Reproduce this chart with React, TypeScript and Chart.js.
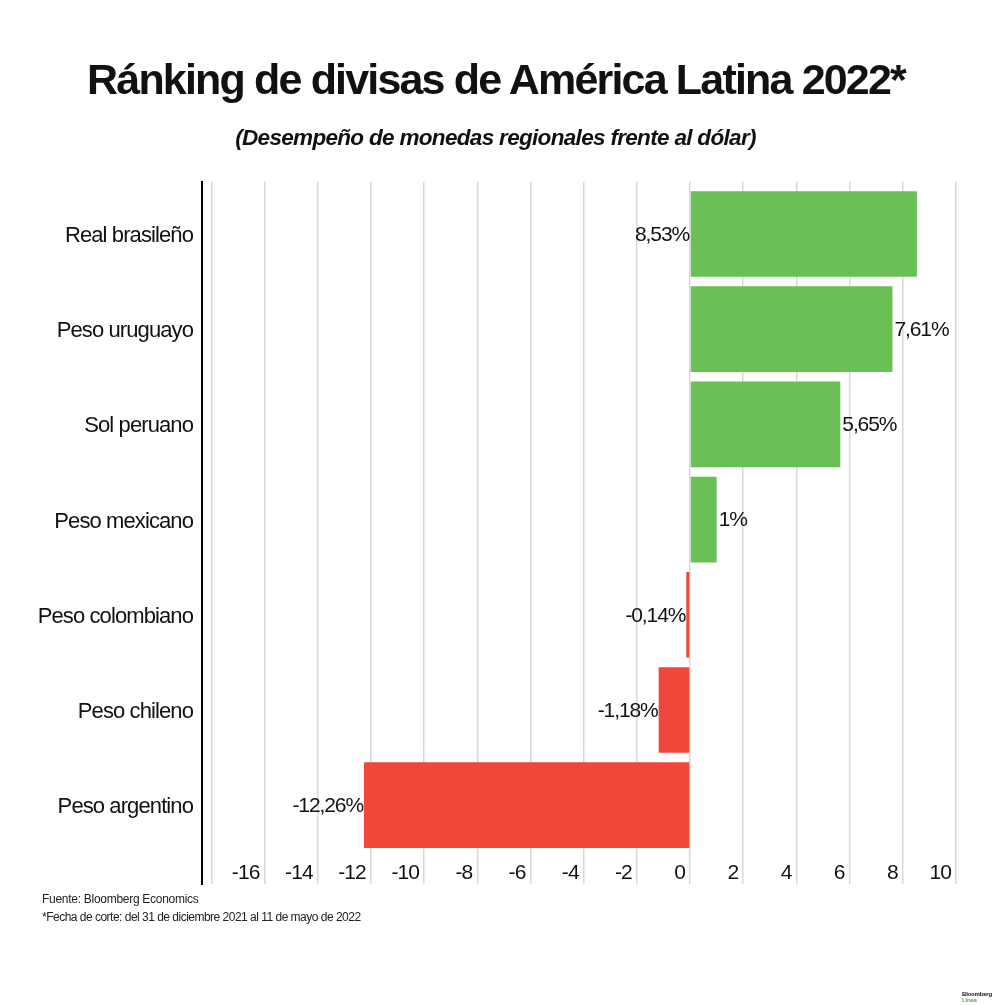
import React, { useEffect, useRef } from "react";
import { Chart, registerables } from "chart.js";

Chart.register(...registerables);

const categories = [
  "Real brasileño",
  "Peso uruguayo",
  "Sol peruano",
  "Peso mexicano",
  "Peso colombiano",
  "Peso chileno",
  "Peso argentino",
];
const values = [8.53, 7.61, 5.65, 1, -0.14, -1.18, -12.26];
const valueLabels = ["8,53%", "7,61%", "5,65%", "1%", "-0,14%", "-1,18%", "-12,26%"];
const xTicks = [-18, -16, -14, -12, -10, -8, -6, -4, -2, 0, 2, 4, 6, 8, 10];

const GREEN = "#6abf55";
const RED = "#f0473a";
const FONT = '"Liberation Sans", Arial, sans-serif';

// tight tracking for everything the chart draws, plus the % labels next to the bars
const textPlugin = {
  id: "barText",
  beforeDraw(chart: any) {
    chart.ctx.letterSpacing = "-0.9px";
  },
  afterDatasetsDraw(chart: any) {
    const { ctx, chartArea } = chart;
    const bars = chart.getDatasetMeta(0).data;
    const zero = chart.scales.x.getPixelForValue(0);
    ctx.save();
    ctx.font = `21px ${FONT}`;
    ctx.fillStyle = "#111";
    ctx.textBaseline = "middle";
    ctx.letterSpacing = "-1.1px";
    bars.forEach((bar: any, i: number) => {
      const width = ctx.measureText(valueLabels[i]).width;
      if (values[i] < 0) {
        ctx.textAlign = "right";
        ctx.fillText(valueLabels[i], bar.x - 1, bar.y + 1);
      } else if (bar.x + 2 + width > chartArea.right) {
        // no room to the right of the bar, goes before the zero line
        ctx.textAlign = "right";
        ctx.fillText(valueLabels[i], zero - 1, bar.y + 1);
      } else {
        ctx.textAlign = "left";
        ctx.fillText(valueLabels[i], bar.x + 2, bar.y + 1);
      }
    });
    ctx.restore();
  },
};

const App: React.FC = () => {
  const canvasRef = useRef<HTMLCanvasElement>(null);

  useEffect(() => {
    document.body.style.margin = "0";
    if (!canvasRef.current) return;

    const chart = new Chart(canvasRef.current, {
      type: "bar",
      data: {
        datasets: [
          {
            data: values.map((v, i) => ({ x: v, y: i })),
            backgroundColor: values.map((v) => (v >= 0 ? GREEN : RED)),
            barPercentage: 0.9,
            categoryPercentage: 1,
          },
        ],
      },
      options: {
        indexAxis: "y",
        animation: false,
        responsive: false,
        layout: { padding: { top: 182, right: 44, bottom: 122, left: 0 } },
        plugins: { legend: { display: false }, tooltip: { enabled: false } },
        scales: {
          x: {
            type: "linear",
            min: -18.35,
            max: 10,
            afterBuildTicks: (scale: any) => {
              scale.ticks = xTicks.map((value) => ({ value }));
            },
            afterFit: (scale: any) => {
              scale.height = 0;
            },
            grid: { color: "#d8d8d8", lineWidth: 1.5, drawTicks: false },
            border: { display: false },
            ticks: {
              autoSkip: false,
              maxRotation: 0,
              align: "end",
              // mirror switches off the label clip and flips the padding, so the labels sit inside the plot
              mirror: true,
              padding: -2,
              labelOffset: -5,
              color: "#111",
              font: { family: FONT, size: 21 },
              callback: (v: any) => (v === -18 ? "" : String(v)),
            },
          },
          y: {
            type: "linear",
            reverse: true,
            offset: false,
            min: -0.546,
            max: 6.828,
            afterBuildTicks: (scale: any) => {
              scale.ticks = categories.map((_, value) => ({ value }));
            },
            afterFit: (scale: any) => {
              scale.width = 202;
            },
            grid: { display: false, drawTicks: false },
            border: { display: true, color: "#000", width: 2 },
            ticks: {
              autoSkip: false,
              padding: 9,
              labelOffset: 2,
              color: "#111",
              font: { family: FONT, size: 22 },
              callback: (v: any) => categories[v],
            },
          },
        },
      } as any,
      plugins: [textPlugin],
    });

    return () => {
      chart.destroy();
    };
  }, []);

  return (
    <div style={{ position: "relative", width: 1000, height: 1006, background: "#fff", fontFamily: FONT, color: "#111", overflow: "hidden" }}>
      <canvas ref={canvasRef} width={1000} height={1006} style={{ position: "absolute", left: 0, top: 0 }} />
      <div style={{ position: "absolute", left: 0, width: 992, top: 53, textAlign: "center", fontSize: 43, lineHeight: "52px", fontWeight: 700, letterSpacing: -1.83, whiteSpace: "nowrap" }}>
        Ránking de divisas de América Latina 2022*
      </div>
      <div style={{ position: "absolute", left: 0, width: 991, top: 124, textAlign: "center", fontSize: 22.5, lineHeight: "28px", fontWeight: 700, fontStyle: "italic", letterSpacing: -0.68, whiteSpace: "nowrap" }}>
        (Desempeño de monedas regionales frente al dólar)
      </div>
      <div style={{ position: "absolute", left: 42, top: 892, fontSize: 12, lineHeight: "15px", letterSpacing: -0.28, color: "#222", whiteSpace: "nowrap" }}>
        Fuente: Bloomberg Economics
      </div>
      <div style={{ position: "absolute", left: 42, top: 910, fontSize: 12, lineHeight: "15px", letterSpacing: -0.51, color: "#222", whiteSpace: "nowrap" }}>
        *Fecha de corte: del 31 de diciembre 2021 al 11 de mayo de 2022
      </div>
      <div style={{ position: "absolute", left: 962, top: 992, fontSize: 6, lineHeight: "5.5px", fontWeight: 700, letterSpacing: -0.2, whiteSpace: "nowrap" }}>
        Bloomberg
        <br />
        <span style={{ color: "#4caf50" }}>Línea</span>
      </div>
    </div>
  );
};

export default App;
